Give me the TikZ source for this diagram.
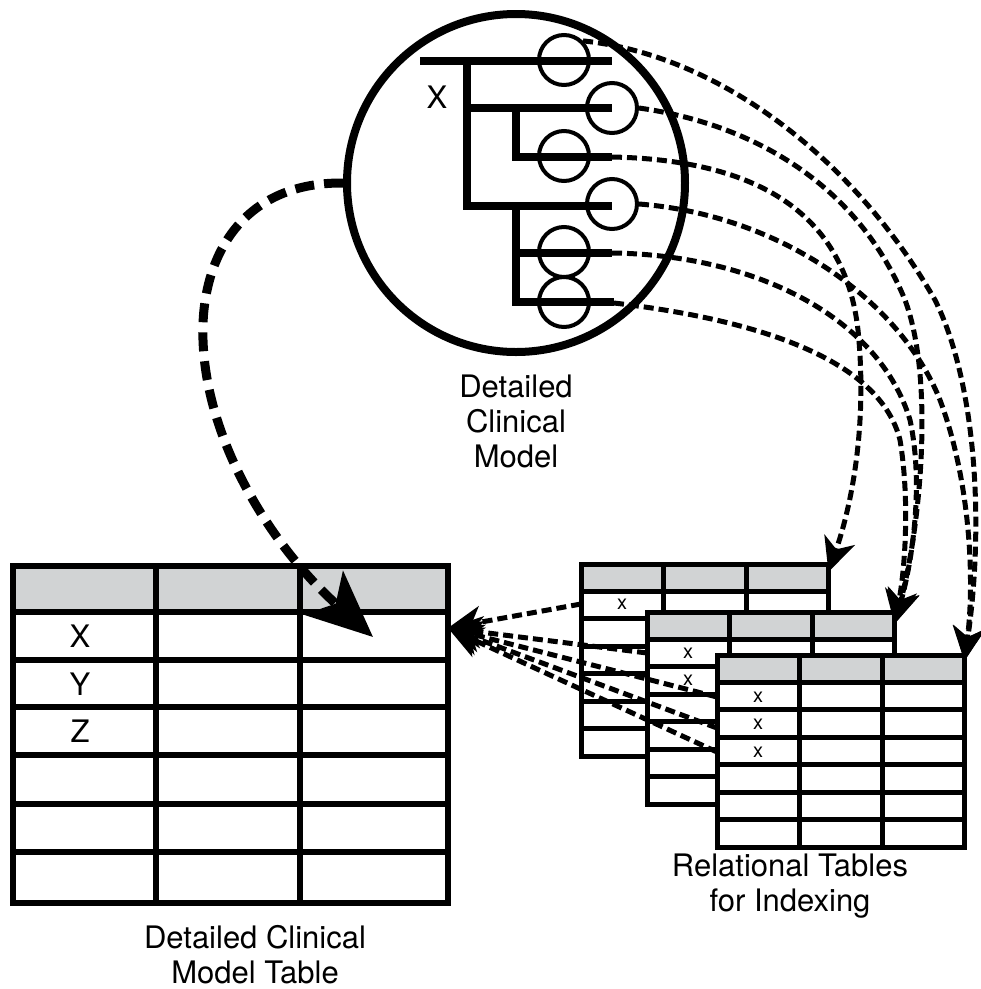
\documentclass[tikz,border=0pt]{standalone}
\usepackage{fontspec}
\setmainfont{TeX Gyre Heros}
\usepackage{xcolor}
\usepackage{tikz}
\usetikzlibrary{arrows.meta,positioning,calc}
\definecolor{hdrgrey}{RGB}{209,211,212}

\begin{document}
\begin{tikzpicture}[
    x=1pt, y=-1pt,
    font=\fontsize{31}{35}\selectfont,
    treeline/.style={line width=8.5pt},
    leaf/.style={draw, circle, line width=4pt, minimum size=50pt, inner sep=0pt},
    tabline/.style={line width=5.5pt},
    rtabline/.style={line width=5pt},
    xmark/.style={font=\fontsize{20}{24}\selectfont, inner sep=0pt},
    caption/.style={align=center},
    link/.style={-{Stealth[length=34pt,width=32pt,inset=10pt]}, line width=5pt, dash pattern=on 10pt off 5pt},
    bigflow/.style={-{Stealth[length=66pt,width=58pt,inset=16pt]}, line width=9pt, dash pattern=on 19pt off 10pt}
]

\useasboundingbox (0,0) rectangle (981,989);

% ===== DETAILED CLINICAL MODEL =====
\node[draw, circle, line width=8pt, minimum size=338pt, inner sep=0pt] (dcm) at (516,183) {};

\draw[treeline] (420,61) -- (612,61);
\draw[treeline] (467,61) -- (467,206) -- (612,206);
\draw[treeline] (467,108) -- (612,108);
\draw[treeline] (516,108) -- (516,157) -- (612,157);
\draw[treeline] (516,206) -- (516,302) -- (614,302);
\draw[treeline] (516,253) -- (612,253);

\node[leaf] (c1) at (564,60) {};
\node[leaf] (c2) at (612,108) {};
\node[leaf] (c3) at (564,156) {};
\node[leaf] (c4) at (612,204) {};
\node[leaf] (c5) at (564,252) {};
\node[leaf] (c6) at (564,302) {};

\coordinate (e3) at (612,157);
\coordinate (e5) at (612,253);
\coordinate (e6) at (614,303);

\node (xlbl) at (437,97) {X};
\node[caption] (dcmlbl) at (516,421) {Detailed\\Clinical\\Model};

% ===== DETAILED CLINICAL MODEL TABLE =====
\fill[hdrgrey] (10,563) rectangle (445,612);
\foreach \r in {612,660,707,755,804,852}
  \draw[tabline] (10,\r) -- (445,\r);
\foreach \c in {156,300}
  \draw[tabline] (\c,563) -- (\c,900);
\node[draw, tabline, anchor=north west, minimum width=435pt, minimum height=337pt, inner sep=0pt] (dcmt) at (10,563) {};

\node (rx) at (80,636) {X};
\node (ry) at (80,684) {Y};
\node (rz) at (80,731) {Z};

\node[caption] (dcmtlbl) at (255,955) {Detailed Clinical\\Model Table};

% ===== RELATIONAL TABLES =====
\foreach \n/\x/\y in {tA/581/564, tB/647/612, tC/717/655} {
  \node[fill=white, anchor=north west, minimum width=247pt, minimum height=192pt, inner sep=0pt] (\n) at (\x,\y) {};
  \fill[hdrgrey] (\x,\y) rectangle (\x+247,\y+27);
  \foreach \r in {0,...,5}
    \draw[rtabline] (\x,\y+27+27.5*\r) -- (\x+247,\y+27+27.5*\r);
  \foreach \c in {82,165}
    \draw[rtabline] (\x+\c,\y) -- (\x+\c,\y+192);
  \draw[rtabline] (\n.north west) rectangle (\n.south east);
}

\node[xmark] (xa1) at (622,604) {x};
\node[xmark] (xb1) at (688,653) {x};
\node[xmark] (xb2) at (688,680) {x};
\node[xmark] (xc1) at (758,697) {x};
\node[xmark] (xc2) at (758,724) {x};
\node[xmark] (xc3) at (758,752) {x};

\node[caption] (rtlbl) at (790,886) {Relational Tables\\for Indexing};

% ===== INDEX -> MODEL TABLE =====
\coordinate (xrow) at (448,628);
\draw[link] (tA.north west |- xa1) -- (xrow);
\draw[link] (tB.north west |- xb1) -- (xrow);
\draw[link] (tC.north west |- xc1) -- (xrow);
\draw[link] ([yshift=-4pt]tC.north west |- xc2) -- (xrow);
\draw[link] (tC.north west |- xc3) -- (xrow);

% ===== MODEL -> RELATIONAL TABLES =====
\coordinate (inA) at ([yshift=-8pt]tA.north east);
\coordinate (inB) at ([yshift=-12pt]tB.north east);
\coordinate (inC) at ([yshift=-6pt]tC.north east);

\draw[link] (e3) .. controls (760,160) and (845,215) .. (858,330)
  .. controls (868,430) and (850,510) .. (inA);
\draw[link] (c2.east) .. controls (760,125) and (860,190) .. (905,300)
  .. controls (935,380) and (920,530) .. (inB);
\draw[link] (c1.45) .. controls (720,55) and (855,160) .. (935,300)
  .. controls (975,380) and (985,520) .. (inC);
\draw[link] (c4.east) .. controls (780,215) and (900,300) .. (940,400)
  .. controls (970,480) and (975,580) .. (inC);
\draw[link] (e5) .. controls (760,255) and (880,320) .. (910,420)
  .. controls (925,490) and (910,570) .. (inB);
\draw[link] (e6) .. controls (760,320) and (880,360) .. (900,440)
  .. controls (910,500) and (905,570) .. (inB);

% ===== MODEL -> MODEL TABLE =====
\coordinate (bigin) at (373,637);
\draw[bigflow] (dcm.west) .. controls (240,182) and (200,260) .. (203,340)
  .. controls (206,440) and (270,545) .. (bigin);

\end{tikzpicture}
\end{document}
